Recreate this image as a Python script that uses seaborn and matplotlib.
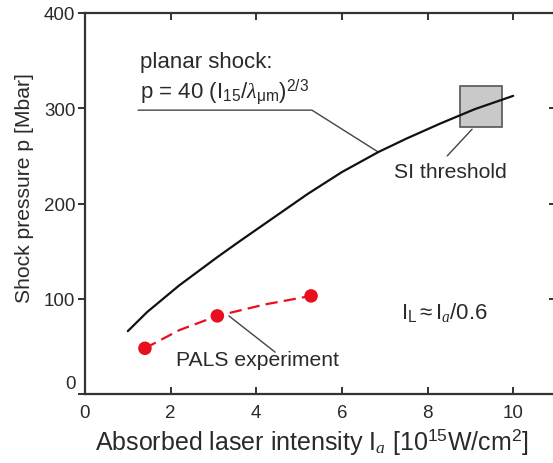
import matplotlib
matplotlib.use("Agg")
import matplotlib.pyplot as plt
import matplotlib.transforms as mtransforms
from matplotlib.patches import Rectangle
import pandas as pd
import seaborn as sns

# Planar-shock scaling curve (absorbed intensity vs. shock pressure)
shock_I = [1.0, 1.45, 2.2, 3.1, 3.6, 4.4, 5.2, 6.0, 6.85, 7.5, 8.3, 9.1, 10.0]
shock_p = [66, 86, 114, 144, 160, 185, 210, 233, 254, 268, 284, 299, 313]

# PALS measurements
pals_I = [1.40, 3.09, 5.28]
pals_p = [48, 82, 103]

# Dashed trend through the PALS measurements
trend_I = [1.40, 2.2, 3.09, 4.2, 5.28]
trend_p = [48, 67, 82, 94, 103]

# Shock-ignition threshold window
si_I = (8.75, 9.75)
si_p = (280, 323)

x_ticks = [0, 2, 4, 6, 8, 10]
y_ticks = [0, 100, 200, 300, 400]

sns.set_theme(style="ticks")
plt.rcParams["font.family"] = ["Liberation Sans", "DejaVu Sans"]
plt.rcParams["mathtext.fontset"] = "custom"
plt.rcParams["mathtext.rm"] = "Liberation Sans"
plt.rcParams["mathtext.it"] = "Liberation Serif:italic"
plt.rcParams["mathtext.bf"] = "Liberation Sans:bold"

txt = "#2a2a2a"
spine_c = "#333333"
red = "#e8101e"

fig = plt.figure(figsize=(5.53, 4.64), dpi=100)
ax = fig.add_axes([85 / 553, 69 / 464, 471 / 553, 381 / 464])

shock_df = pd.DataFrame({"I": shock_I, "p": shock_p})
trend_df = pd.DataFrame({"I": trend_I, "p": trend_p})
pals_df = pd.DataFrame({"I": pals_I, "p": pals_p})

# threshold box (drawn first so the curve crosses over it)
ax.add_patch(Rectangle((si_I[0], si_p[0]), si_I[1] - si_I[0], si_p[1] - si_p[0],
                       facecolor="#c9c9c9", edgecolor="#555555", lw=1.2, zorder=2))

sns.lineplot(data=shock_df, x="I", y="p", ax=ax, color="#111111", lw=1.6,
             estimator=None, zorder=3)
sns.lineplot(data=trend_df, x="I", y="p", ax=ax, color=red, lw=1.6,
             estimator=None, zorder=3)
ax.lines[-1].set_dashes([5.5, 2.8])
sns.scatterplot(data=pals_df, x="I", y="p", ax=ax, color=red, s=95,
                edgecolor="none", zorder=4)

# leader lines
lead_c = "#444444"
ax.plot([1.24, 5.30, 6.85], [298, 298, 254], color=lead_c, lw=1.0, zorder=2)
ax.plot([9.04, 8.46], [278, 250], color=lead_c, lw=1.0, zorder=2)
ax.plot([3.36, 4.44], [82, 44], color=lead_c, lw=1.0, zorder=2)

ax.text(1.28, 349, "planar shock:", fontsize=16, color=txt, ha="left", va="center")
ax.text(1.28, 318,
        r"p = 40 (I$_{15}$/$\lambda_{\mathrm{\mu m}}$)$^{2/3}$",
        fontsize=16, color=txt, ha="left", va="center")
ax.text(8.53, 234, "SI threshold", fontsize=15.2, color=txt, ha="center", va="center")
ax.text(4.02, 36, "PALS experiment", fontsize=15.2, color=txt, ha="center", va="center")
ax.text(8.39, 87, r"I$_\mathrm{L}$$\approx$I$_{a}$/0.6", fontsize=16, color=txt,
        ha="center", va="center")

ax.set_xlim(0, 11)
ax.set_ylim(0, 400)
ax.set_xticks(x_ticks)
ax.set_yticks(y_ticks)
ax.set_xticklabels([str(v) for v in x_ticks])
ax.set_yticklabels([str(v) for v in y_ticks])

ax.set_xlabel(r"Absorbed laser intensity I$_{a}$ [10$^{15}$W/cm$^{2}$]",
              fontsize=18, color=txt, labelpad=4, x=0.482)
ax.set_ylabel("Shock pressure p [Mbar]", fontsize=15.2, color=txt, labelpad=7,
              y=0.543)

for side in ["left", "bottom", "top"]:
    ax.spines[side].set_visible(True)
    ax.spines[side].set_color(spine_c)
    ax.spines[side].set_linewidth(1.6)
ax.spines["right"].set_visible(False)

ax.tick_params(axis="x", which="major", direction="in", top=True, bottom=True,
               length=5, width=1.4, color=spine_c, labelsize=13.5, labelcolor=txt, pad=7)
ax.tick_params(axis="y", which="major", direction="out", left=True, right=False,
               length=5, width=1.4, color=spine_c, labelsize=13.5, labelcolor=txt, pad=2)

# inward ticks along the right edge
sec = ax.secondary_yaxis("right")
sec.set_yticks(y_ticks)
sec.tick_params(direction="in", length=5, width=1.4, color=spine_c, labelright=False)
sec.spines["right"].set_visible(False)

# lift the zero label on the pressure axis
fig.canvas.draw()
lift = mtransforms.ScaledTranslation(0, 12 / 100, fig.dpi_scale_trans)
zero_tick = ax.yaxis.get_major_ticks()[0]
zero_tick.label1.set_transform(zero_tick.label1.get_transform() + lift)

fig.savefig("out.png", dpi=100)
